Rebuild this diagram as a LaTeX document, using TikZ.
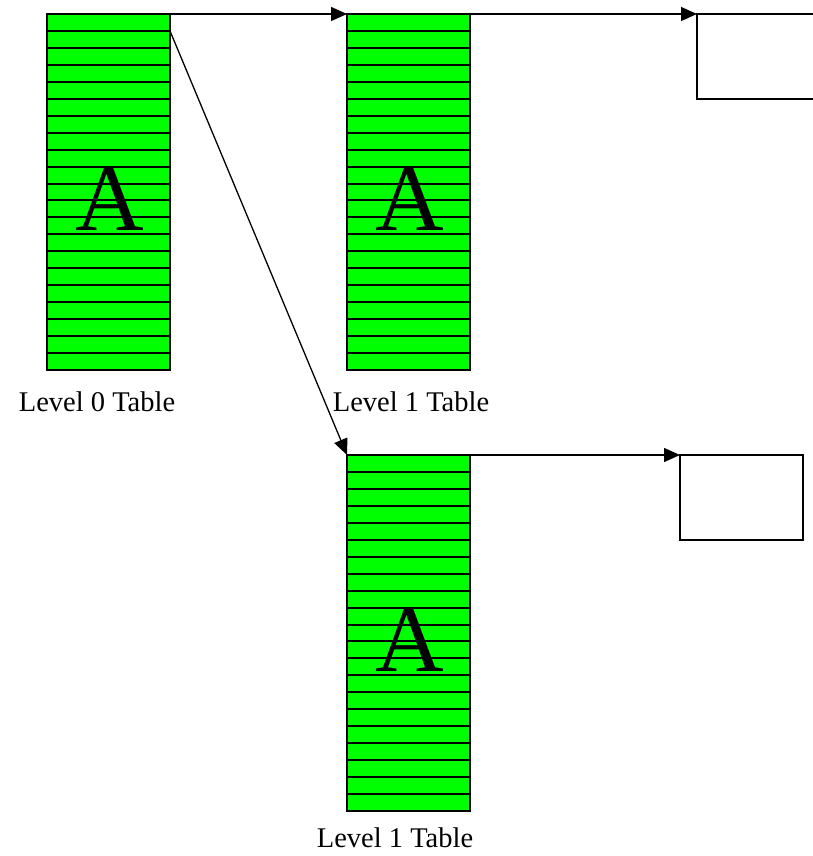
\documentclass[tikz,border=0pt]{standalone}
\usepackage{fontspec}
\setmainfont{Liberation Serif}
\usetikzlibrary{calc,arrows.meta}
\definecolor{tablegreen}{RGB}{0,255,0}
\tikzset{
  x=1pt, y=1pt,
  tablebox/.style={fill=tablegreen, minimum width=123pt,
    minimum height=356pt, inner sep=0pt, outer sep=0pt},
  rule/.style={line width=2pt},
  emptybox/.style={draw, line width=1.5pt, minimum width=123pt, minimum height=85pt,
    inner sep=0pt, outer sep=0pt},
  bigletter/.style={font=\fontsize{95}{95}\selectfont, inner sep=0pt, anchor=base},
  caption/.style={font=\fontsize{28.5}{30}\selectfont, inner sep=0pt, anchor=base},
  link/.style={line width=1.3pt, -{Triangle[length=16pt,width=14pt]}},
}
% outline and 20 separators of a 21-row table, drawn over its letter
\newcommand{\tablerows}[1]{%
  \foreach \i in {1,...,20}{
    \draw[rule] ($(#1.north west)!\i/21!(#1.south west)$) --
      ($(#1.north east)!\i/21!(#1.south east)$);
  }%
  \draw[rule] (#1.north west) rectangle (#1.south east);
}
\begin{document}
\begin{tikzpicture}
\useasboundingbox (0,0) rectangle (812,-856);

% tables
\node[tablebox, anchor=north west] (t0) at (47,-14) {};
\node[bigletter] (a0) at ([xshift=1pt,yshift=-38pt]t0.center) {A};
\tablerows{t0}

\node[tablebox, anchor=north west] (t1) at (347,-14) {};
\node[bigletter] (a1) at ([xshift=1pt,yshift=-38pt]t1.center) {A};
\tablerows{t1}

\node[tablebox, anchor=north west] (t2) at (347,-455) {};
\node[bigletter] (a2) at ([xshift=1pt,yshift=-38pt]t2.center) {A};
\tablerows{t2}

% captions
\node[caption] (c0) at (97,-411) {Level 0 Table};
\node[caption] (c1) at (411,-411) {Level 1 Table};
\node[caption] (c2) at (395,-847) {Level 1 Table};

% empty target boxes
\node[emptybox, anchor=north west] (b1) at (697,-14) {};
\node[emptybox, anchor=north west] (b2) at (680,-455) {};

% pointers
\coordinate (p0) at ($(t0.north east)!1/21!(t0.south east)$);
\draw[link] (t0.north east) -- (t1.north west);
\draw[link] (p0) -- (t2.north west);
\draw[link] (t1.north east) -- (b1.north west);
\draw[link] (t2.north east) -- (b2.north west);
\end{tikzpicture}
\end{document}
